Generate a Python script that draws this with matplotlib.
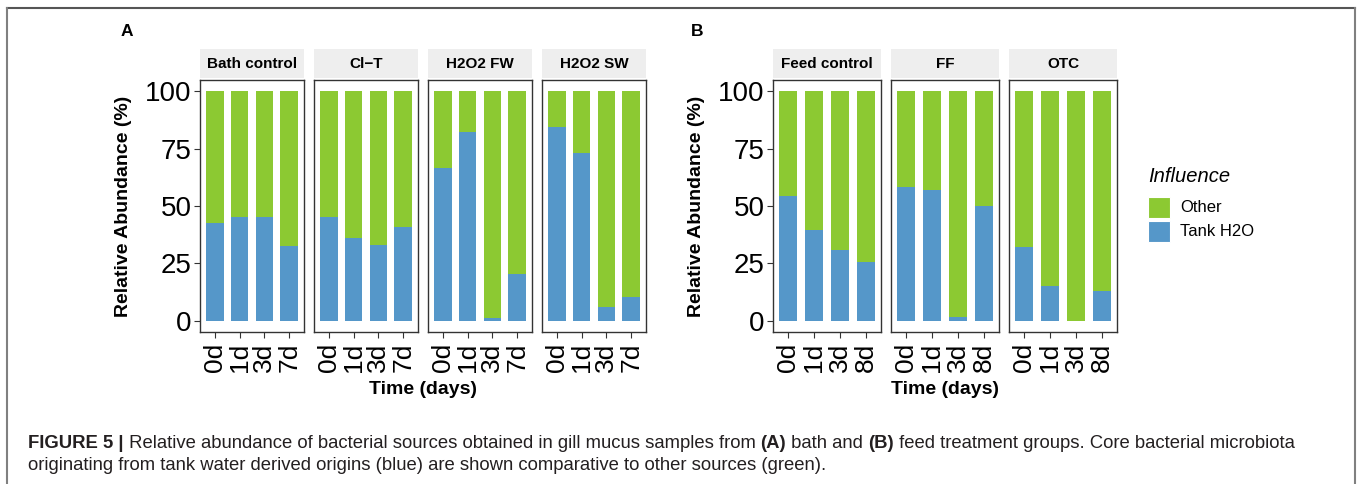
import matplotlib
matplotlib.use('Agg')
from matplotlib import pyplot as plt
from matplotlib.patches import Rectangle
from matplotlib.lines import Line2D

plt.rcParams['font.family'] = ['Liberation Sans', 'DejaVu Sans']

# Tank H2O share (%) per sampling day; "Other" is the rest up to 100
days_bath = ['0d', '1d', '3d', '7d']
days_feed = ['0d', '1d', '3d', '8d']

bath_groups = ['Bath control', 'Cl\u2212T', 'H2O2 FW', 'H2O2 SW']
tank_bath_control = [42.4, 45.1, 45.1, 32.7]
tank_clt = [45.1, 36.2, 33.0, 41.0]
tank_h2o2_fw = [66.8, 82.5, 1.0, 20.1]
tank_h2o2_sw = [84.4, 73.1, 6.1, 10.2]

feed_groups = ['Feed control', 'FF', 'OTC']
tank_feed_control = [54.4, 39.7, 30.6, 25.6]
tank_ff = [58.2, 57.1, 1.7, 49.8]
tank_otc = [32.1, 14.9, 0.0, 13.1]

legend_labels = ['Other', 'Tank H2O']

GREEN = '#8CC932'
BLUE = '#5597C9'
W, H = 1358, 484

fig = plt.figure(figsize=(W / 100, H / 100), dpi=100)


def box(x0, y0, x1, y1):
    # pixel box -> figure fraction rect
    return [x0 / W, 1 - y1 / H, (x1 - x0) / W, (y1 - y0) / H]


def facet(x0, x1, title, days, tank, first):
    ax = fig.add_axes(box(x0, 80, x1, 332))
    pos = range(1, len(days) + 1)
    other = [100 - v for v in tank]
    ax.bar(pos, tank, width=0.7, color=BLUE, linewidth=0)
    ax.bar(pos, other, bottom=tank, width=0.7, color=GREEN, linewidth=0)
    ax.set_xlim(0.4, len(days) + 0.6)
    ax.set_ylim(-5, 105)
    ax.set_xticks(list(pos))
    ax.set_xticklabels(days, rotation=90, fontsize=19)
    ax.set_yticks([0, 25, 50, 75, 100])
    if first:
        ax.tick_params(axis='y', labelsize=20, length=4, width=0.8,
                       color='#333333', pad=2)
    else:
        ax.tick_params(axis='y', left=False, labelleft=False)
    ax.tick_params(axis='x', length=4, width=0.8, color='#333333', pad=4)
    for s in ax.spines.values():
        s.set_color('#333333')
        s.set_linewidth(1.0)
    st = fig.add_axes(box(x0, 49, x1, 78))
    st.set_facecolor('#EEEEEE')
    st.set_xticks([])
    st.set_yticks([])
    for s in st.spines.values():
        s.set_visible(False)
    st.text(0.5, 0.5, title, ha='center', va='center', fontsize=11,
            fontweight='bold', transform=st.transAxes)
    return ax


bath_x = [(200, 304), (314, 418), (428, 532), (542, 646)]
for (x0, x1), g, t, i in zip(bath_x, bath_groups,
                             [tank_bath_control, tank_clt, tank_h2o2_fw, tank_h2o2_sw],
                             range(4)):
    facet(x0, x1, g, days_bath, t, i == 0)

feed_x = [(773, 881), (891, 999), (1009, 1117)]
for (x0, x1), g, t, i in zip(feed_x, feed_groups,
                             [tank_feed_control, tank_ff, tank_otc], range(3)):
    facet(x0, x1, g, days_feed, t, i == 0)

# panel letters and axis titles
fig.text(127 / W, 1 - 32 / H, 'A', fontsize=12.5, fontweight='bold',
         ha='center', va='center')
fig.text(697 / W, 1 - 32 / H, 'B', fontsize=12.5, fontweight='bold',
         ha='center', va='center')
for x, y in [(124, 206), (697, 206)]:
    fig.text(x / W, 1 - y / H, 'Relative Abundance (%)', rotation=90,
             fontsize=14, fontweight='bold', ha='center', va='center')
for x in [423, 945]:
    fig.text(x / W, 1 - 390 / H, 'Time (days)', fontsize=14,
             fontweight='bold', ha='center', va='center')

# legend, drawn by hand in pixel positions
fig.text(1148 / W, 1 - 177 / H, 'Influence', fontsize=14.5,
         style='italic', ha='left', va='center')
for lab, col, ytop in zip(legend_labels, [GREEN, BLUE], [197, 221]):
    fig.add_artist(Rectangle((1148 / W, 1 - (ytop + 21) / H), 22 / W, 21 / H,
                             facecolor=col, edgecolor='white', lw=0.8,
                             transform=fig.transFigure))
    fig.text(1180 / W, 1 - (ytop + 10.5) / H, lab, fontsize=12,
             ha='left', va='center')

# frame round the figure
frame_c = '#808080'
fig.add_artist(Line2D([7 / W, 1355 / W], [1 - 8 / H, 1 - 8 / H],
                      color='#555555', lw=1.5, transform=fig.transFigure))
for x in [7, 1355]:
    fig.add_artist(Line2D([x / W, x / W], [1 - 8 / H, 0], color=frame_c,
                          lw=1.5, transform=fig.transFigure))

# caption with bold fragments
renderer = fig.canvas.get_renderer()


def caption_line(parts, x, y):
    for txt, bold in parts:
        t = fig.text(x / W, 1 - y / H, txt, fontsize=13.3, color='#231F20',
                     fontweight='bold' if bold else 'normal', va='center')
        bb = t.get_window_extent(renderer=renderer)
        x += bb.width


caption_line([('FIGURE 5 |', True),
              (' Relative abundance of bacterial sources obtained in gill mucus samples from ', False),
              ('(A)', True), (' bath and ', False), ('(B)', True),
              (' feed treatment groups. Core bacterial microbiota', False)], 28, 443)
caption_line([('originating from tank water derived origins (blue) are shown comparative to other sources (green).', False)],
             28, 466)

fig.savefig('out.png', dpi=100)
